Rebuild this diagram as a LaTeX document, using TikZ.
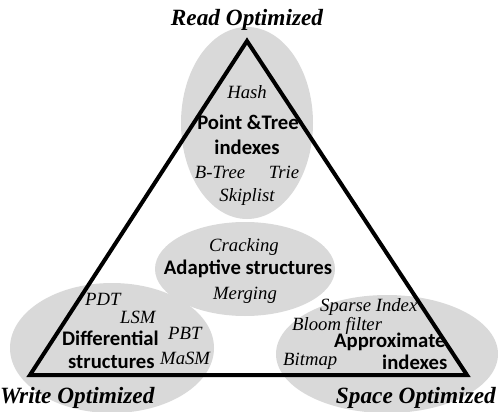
\documentclass[tikz,border=0pt]{standalone}
\usepackage{fontspec}
\setmainfont{Liberation Serif}
\newfontfamily\calib{Carlito}
\usetikzlibrary{shapes.geometric}
\definecolor{blobgray}{HTML}{D9D9D9}
\tikzset{
  blob/.style={ellipse, fill=blobgray, draw=none, inner sep=0pt},
  ex/.style={font=\fontsize{18.7}{20}\selectfont\itshape, inner sep=0pt},
  cat/.style={font=\fontsize{20.7}{22}\selectfont\calib\bfseries, inner sep=0pt},
  corner/.style={font=\fontsize{23.3}{25}\selectfont\bfseries\itshape, inner sep=0pt},
  tri/.style={line width=4pt, line join=miter},
}
\begin{document}
\begin{tikzpicture}[x=1pt,y=-1pt]
\useasboundingbox (0,0) rectangle (498,412);
% ellipses
\node[blob, minimum width=132pt, minimum height=192pt] (etop) at (247,123) {};
\node[blob, minimum width=180pt, minimum height=94pt] (emid) at (245,269) {};
\node[blob, minimum width=204pt, minimum height=130pt] (eleft) at (112,348) {};
\node[blob, minimum width=222pt, minimum height=118pt] (eright) at (387,354) {};
% triangle
\coordinate (A) at (247,41);
\coordinate (B) at (30,375);
\coordinate (C) at (467,375);
\draw[tri] (A) -- (B) -- (C) -- cycle;
% corner labels
\node[corner, anchor=base] (ro) at (247,26) {Read Optimized};
\node[corner, anchor=base west] (wo) at (0,403) {Write Optimized};
\node[corner, anchor=base east] (so) at (496,403) {Space Optimized};
% top
\node[ex, anchor=base] (hash) at (247,98) {Hash};
\node[cat, anchor=base] (pt) at (248,129) {Point \&Tree};
\node[cat, anchor=base] (pti) at (247,154) {indexes};
\node[ex, anchor=base] (bt) at (220,178) {B-Tree};
\node[ex, anchor=base] (trie) at (284,178) {Trie};
\node[ex, anchor=base] (skip) at (247,201) {Skiplist};
% middle
\node[ex, anchor=base] (crack) at (244,251) {Cracking};
\node[cat, anchor=base] (adapt) at (248,274) {Adaptive structures};
\node[ex, anchor=base] (merge) at (245,299) {Merging};
% left
\node[ex, anchor=base west] (pdt) at (85,305) {PDT};
\node[ex, anchor=base west] (lsm) at (120,323) {LSM};
\node[ex, anchor=base west] (pbt) at (168,339) {PBT};
\node[ex, anchor=base west] (masm) at (160,364) {MaSM};
\node[cat, anchor=base west] (diff) at (62,345) {Differential};
\node[cat, anchor=base west] (diffs) at (68,368) {structures};
% right
\node[ex, anchor=base west] (sparse) at (320,311) {Sparse Index};
\node[ex, anchor=base west] (bloom) at (292,330) {Bloom filter};
\node[cat, anchor=base west] (approx) at (334,347) {Approximate};
\node[ex, anchor=base west] (bitmap) at (283,365) {Bitmap};
\node[cat, anchor=base west] (approxi) at (382,369) {indexes};
\end{tikzpicture}
\end{document}
